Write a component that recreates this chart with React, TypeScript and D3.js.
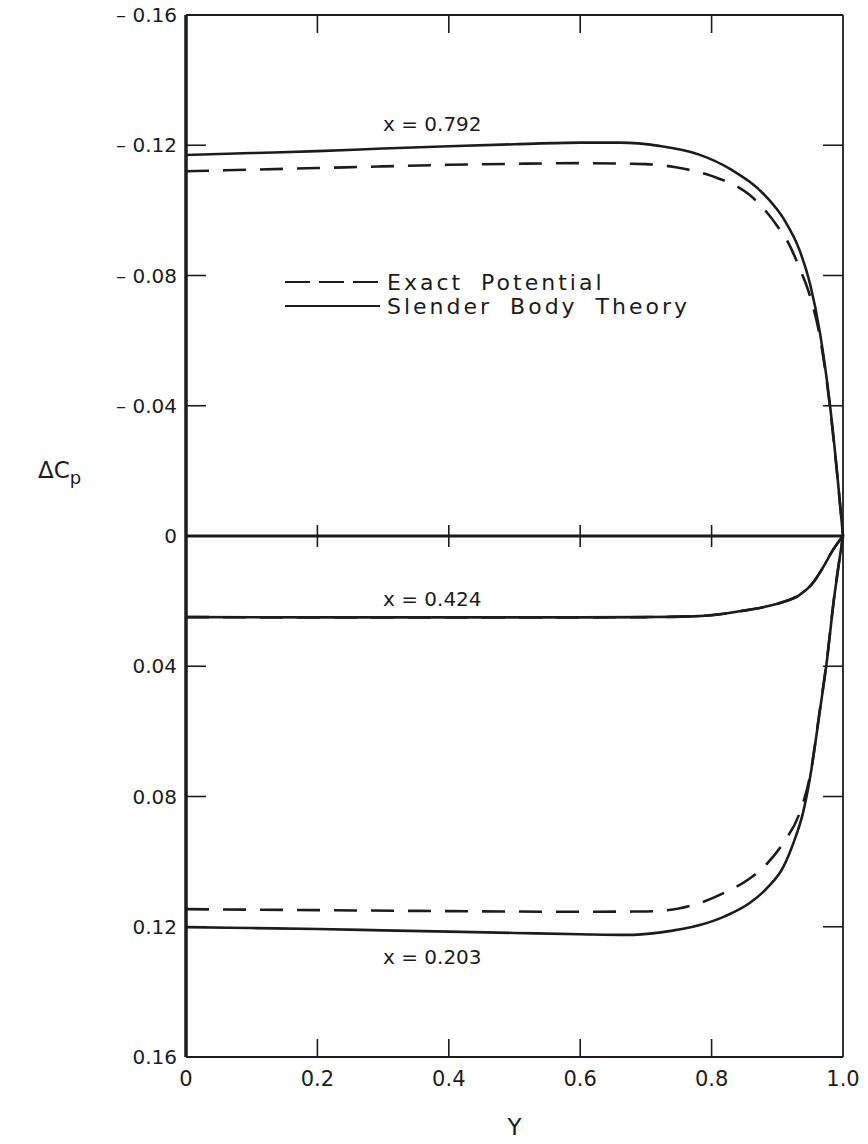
import * as d3 from "d3";

// ΔCp vs spanwise Y, three stations (x = 0.792, 0.424, 0.203)
// pairs are [Y, ΔCp]
const slender792: [number, number][] = [
  [0, -0.117], [0.1, -0.1176], [0.2, -0.1182], [0.3, -0.119], [0.4, -0.1197],
  [0.5, -0.1203], [0.6, -0.1208], [0.66, -0.1208], [0.72, -0.1198], [0.78, -0.1172],
  [0.83, -0.1125], [0.884, -0.104], [0.91, -0.0973], [0.934, -0.0877], [0.95, -0.0773],
  [0.965, -0.0623], [0.98, -0.0405], [0.991, -0.0195], [1, 0],
];
const exact792: [number, number][] = [
  [0, -0.112], [0.1, -0.1125], [0.2, -0.113], [0.3, -0.1135], [0.4, -0.114],
  [0.5, -0.1143], [0.6, -0.1145], [0.7, -0.1142], [0.76, -0.1127], [0.8, -0.1106],
  [0.858, -0.1047], [0.874, -0.1017], [0.901, -0.0949], [0.916, -0.0903], [0.934, -0.0822],
  [0.95, -0.0735], [0.965, -0.061], [0.98, -0.0400], [0.991, -0.0192], [1, 0],
];
const slender424: [number, number][] = [
  [0, 0.0249], [0.2, 0.025], [0.4, 0.025], [0.6, 0.025], [0.7, 0.0249],
  [0.78, 0.0246], [0.84, 0.0232], [0.88, 0.0218], [0.91, 0.0202], [0.934, 0.0181],
  [0.955, 0.0142], [0.97, 0.0095], [0.985, 0.0042], [1, 0],
];
const exact424 = slender424;
const slender203: [number, number][] = [
  [0, 0.1201], [0.1, 0.1204], [0.2, 0.1207], [0.3, 0.1211], [0.4, 0.1215],
  [0.5, 0.1219], [0.6, 0.1223], [0.67, 0.1225], [0.72, 0.1218], [0.782, 0.1195],
  [0.82, 0.1168], [0.858, 0.1127], [0.885, 0.108], [0.909, 0.1017], [0.925, 0.094],
  [0.939, 0.0851], [0.95, 0.074], [0.965, 0.0534], [0.976, 0.0375], [0.985, 0.0215],
  [1, 0],
];
const exact203: [number, number][] = [
  [0, 0.1146], [0.2, 0.1149], [0.4, 0.1152], [0.6, 0.1154], [0.7, 0.1153],
  [0.75, 0.1144], [0.782, 0.1127], [0.82, 0.1095], [0.858, 0.1052], [0.885, 0.1005],
  [0.91, 0.094], [0.935, 0.0845], [0.95, 0.0735], [0.965, 0.053], [0.976, 0.0372],
  [0.985, 0.0212], [1, 0],
];

const xTicks = [0, 0.2, 0.4, 0.6, 0.8, 1.0];
const xTickLabels = ["0", "0.2", "0.4", "0.6", "0.8", "1.0"];
const yTicks = [-0.16, -0.12, -0.08, -0.04, 0, 0.04, 0.08, 0.12, 0.16];
const yTickLabels = ["– 0.16", "– 0.12", "– 0.08", "– 0.04", "0", "0.04", "0.08", "0.12", "0.16"];

const stations = [
  { label: "x = 0.792", at: -0.1265 },
  { label: "x = 0.424", at: 0.0195 },
  { label: "x = 0.203", at: 0.1292 },
];

const W = 868;
const H = 1144;
const ink = "#1c1c1c";
const font = "'DejaVu Sans', 'Liberation Sans', sans-serif";

export default function App() {
  const left = 186, right = 843, top = 15, bottom = 1057;
  const x = d3.scaleLinear().domain([0, 1]).range([left, right]);
  const y = d3.scaleLinear().domain([-0.16, 0.16]).range([top, bottom]);

  const line = d3
    .line<[number, number]>()
    .x((d) => x(d[0]))
    .y((d) => y(d[1]))
    .curve(d3.curveMonotoneX);

  const solid = [slender792, slender424, slender203];
  const dashed = [exact792, exact424, exact203];

  return (
    <svg
      width={W}
      height={H}
      style={{ position: "absolute", left: 0, top: 0, background: "#fff" }}
      fontFamily={font}
    >
      <rect width={W} height={H} fill="#fff" />

      {/* frame */}
      <line x1={left} x2={left} y1={top} y2={bottom} stroke={ink} strokeWidth={3.5} />
      <line x1={left} x2={right} y1={top} y2={top} stroke={ink} strokeWidth={1.8} />
      <line x1={left} x2={right} y1={bottom} y2={bottom} stroke={ink} strokeWidth={1.8} />
      <line x1={right} x2={right} y1={top} y2={bottom} stroke={ink} strokeWidth={1.8} />

      {/* zero line with crossing ticks */}
      <line x1={left} x2={right} y1={y(0)} y2={y(0)} stroke={ink} strokeWidth={3} />
      {xTicks.slice(1, -1).map((t) => (
        <line key={"z" + t} x1={x(t)} x2={x(t)} y1={y(0) - 11} y2={y(0) + 11} stroke={ink} strokeWidth={1.6} />
      ))}

      {/* x ticks, top and bottom, inward */}
      {xTicks.slice(1, -1).map((t) => (
        <g key={"xt" + t}>
          <line x1={x(t)} x2={x(t)} y1={top} y2={top + 18} stroke={ink} strokeWidth={1.6} />
          <line x1={x(t)} x2={x(t)} y1={bottom} y2={bottom - 18} stroke={ink} strokeWidth={1.6} />
        </g>
      ))}
      {xTicks.map((t, i) => (
        <text key={"xl" + t} x={x(t)} y={bottom + 29} textAnchor="middle" fontSize={21} fill={ink}>
          {xTickLabels[i]}
        </text>
      ))}

      {/* y ticks, left and right, inward */}
      {yTicks.slice(1, -1).filter((t) => t !== 0).map((t) => (
        <g key={"yt" + t}>
          <line x1={left} x2={left + 20} y1={y(t)} y2={y(t)} stroke={ink} strokeWidth={1.6} />
          <line x1={right} x2={right - 20} y1={y(t)} y2={y(t)} stroke={ink} strokeWidth={1.6} />
        </g>
      ))}
      {yTicks.map((t, i) => (
        <text key={"yl" + t} x={177} y={y(t) + 7} textAnchor="end" fontSize={20} fill={ink}>
          {yTickLabels[i]}
        </text>
      ))}

      {/* axis titles */}
      <text x={(left + right) / 2} y={1135} textAnchor="middle" fontSize={23} fill={ink}>
        Y
      </text>
      <text x={38} y={478} fontSize={23} fill={ink}>
        ΔC<tspan fontSize={18} dy={6}>p</tspan>
      </text>

      {/* curves */}
      {dashed.map((d, i) => (
        <path key={"d" + i} d={line(d) ?? ""} fill="none" stroke={ink} strokeWidth={2.6} strokeDasharray="23 14" />
      ))}
      {solid.map((d, i) => (
        <path key={"s" + i} d={line(d) ?? ""} fill="none" stroke={ink} strokeWidth={2.6} />
      ))}

      {/* station labels */}
      {stations.map((s) => (
        <text key={s.label} x={383} y={y(s.at) + 7} fontSize={20} fill={ink} style={{ whiteSpace: "pre" }}>
          {s.label}
        </text>
      ))}

      {/* legend */}
      <line x1={285} x2={378} y1={282} y2={282} stroke={ink} strokeWidth={2} strokeDasharray="25 9" />
      <text x={387} y={290} fontSize={22} fill={ink} letterSpacing={3} wordSpacing={8}>
        Exact Potential
      </text>
      <line x1={285} x2={380} y1={306} y2={306} stroke={ink} strokeWidth={2} />
      <text x={387} y={314} fontSize={22} fill={ink} letterSpacing={3} wordSpacing={8}>
        Slender Body Theory
      </text>
    </svg>
  );
}
